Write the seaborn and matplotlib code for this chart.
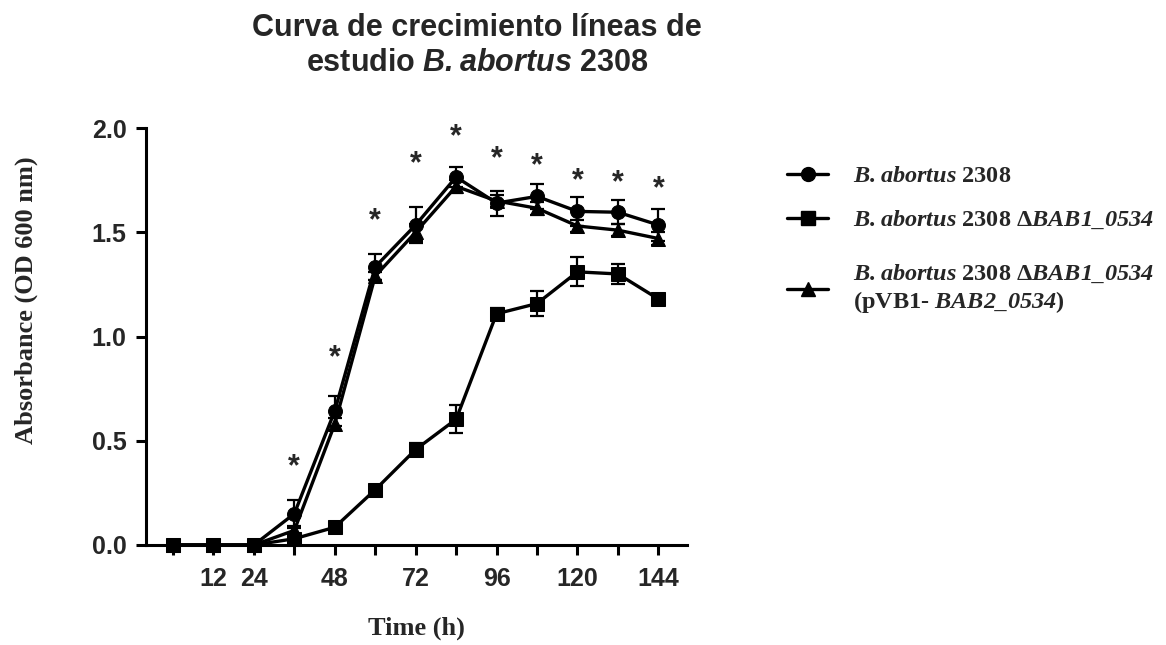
import numpy as np
import pandas as pd
import matplotlib
matplotlib.use('Agg')
import matplotlib.pyplot as plt
import matplotlib.transforms as mtransforms
from matplotlib.lines import Line2D
import seaborn as sns

# Datos
tiempo = [0, 12, 24, 36, 48, 60, 72, 84, 96, 108, 120, 132, 144]

wt = [0, 0, 0, 0.15, 0.643, 1.334, 1.535, 1.765, 1.64, 1.672, 1.60, 1.596, 1.535]
wt_err = [0, 0, 0, 0.068, 0.07, 0.064, 0.085, 0.048, 0.06, 0.06, 0.07, 0.057, 0.077]

mutante = [0, 0, 0, 0.03, 0.085, 0.265, 0.458, 0.603, 1.109, 1.158, 1.31, 1.30, 1.18]
mutante_err = [0, 0, 0, 0.01, 0.015, 0.02, 0.03, 0.068, 0.03, 0.06, 0.07, 0.05, 0.02]

complementada = [0, 0, 0, 0.07, 0.58, 1.29, 1.50, 1.72, 1.65, 1.615, 1.53, 1.51, 1.47]
complementada_err = [0, 0, 0, 0.02, 0.03, 0.02, 0.04, 0.03, 0.03, 0.03, 0.03, 0.03, 0.03]

# Altura (centro) de los asteriscos de significancia
asteriscos_t = [36, 48, 60, 72, 84, 96, 108, 120, 132, 144]
asteriscos_y = [0.418, 0.94, 1.60, 1.873, 2.00, 1.897, 1.86, 1.79, 1.78, 1.75]

ticks_x = [0, 12, 24, 36, 48, 60, 72, 84, 96, 108, 120, 132, 144]
etiquetas_x = ['', '12', '24', '', '48', '', '72', '', '96', '', '120', '', '144']
ticks_y = [0.0, 0.5, 1.0, 1.5, 2.0]

cepas = ['wt', 'mut', 'comp']
etiquetas_cepas = [
    r'$\mathbfit{B.abortus}$ 2308',
    r'$\mathbfit{B.abortus}$ 2308 Δ$\mathbfit{BAB1\_0534}$',
    r'$\mathbfit{B.abortus}$ 2308 Δ$\mathbfit{BAB1\_0534}$' + '\n' + r'(pVB1- $\mathbfit{BAB2\_0534}$)',
]
marcadores = {'wt': 'o', 'mut': 's', 'comp': '^'}

# Tabla larga para seaborn
df = pd.DataFrame({
    'tiempo': tiempo * 3,
    'absorbancia': wt + mutante + complementada,
    'error': wt_err + mutante_err + complementada_err,
    'cepa': ['wt'] * len(tiempo) + ['mut'] * len(tiempo) + ['comp'] * len(tiempo),
})

sns.set_theme(style='ticks')
plt.rcParams['font.family'] = ['Liberation Sans', 'DejaVu Sans']
plt.rcParams['mathtext.fontset'] = 'custom'
plt.rcParams['mathtext.bfit'] = 'Liberation Serif:italic:bold'
plt.rcParams['mathtext.sf'] = 'Liberation Sans:italic:bold'

fig = plt.figure(figsize=(11.66, 6.45), dpi=100)
ax = fig.add_axes([146 / 1166, 100 / 645, 541 / 1166, 417 / 645])

# Barras de error (debajo de las líneas)
for cepa in cepas:
    sub = df[(df['cepa'] == cepa) & (df['error'] > 0)]
    ax.errorbar(sub['tiempo'], sub['absorbancia'], yerr=sub['error'], fmt='none',
                ecolor='black', elinewidth=1.6, capsize=5, capthick=1.6, zorder=2, clip_on=False)

sns.lineplot(data=df, x='tiempo', y='absorbancia', hue='cepa', style='cepa',
             hue_order=cepas, style_order=cepas, markers=marcadores, dashes=False,
             palette={c: 'black' for c in cepas}, linewidth=2.4, markersize=10,
             markeredgecolor='black', errorbar=None, legend=False, ax=ax, zorder=3)
for linea in ax.lines:
    linea.set_clip_on(False)

# Asteriscos
trans_ast = mtransforms.offset_copy(ax.transData, fig=fig, x=0, y=-12.5, units='points')
for t, y in zip(asteriscos_t, asteriscos_y):
    ax.text(t, y, '*', transform=trans_ast, ha='center', va='baseline',
            fontsize=22, fontweight='bold', clip_on=False)

# Ejes
ax.set_xlim(-8, 152.5)
ax.set_ylim(0, 2.0)
ax.set_xticks(ticks_x)
ax.set_xticklabels(etiquetas_x)
ax.set_yticks(ticks_y)
ax.set_yticklabels([f'{v:.1f}' for v in ticks_y])
for etiqueta in ax.get_xticklabels() + ax.get_yticklabels():
    etiqueta.set_fontweight('bold')
ax.tick_params(axis='both', length=7, width=2.2, labelsize=18, pad=7, color='black')
ax.tick_params(axis='x', pad=9)
for lado in ['left', 'bottom']:
    ax.spines[lado].set_linewidth(2.2)
    ax.spines[lado].set_color('black')
sns.despine(ax=ax)
ax.grid(False)

ax.set_xlabel('Time (h)', fontsize=19, fontweight='bold', family='Liberation Serif', labelpad=18)
ax.set_ylabel('')
fig.text(26 / 1166, 1 - 300 / 645, 'Absorbance (OD 600 nm)', rotation=90, ha='center', va='center',
         fontsize=19, fontweight='bold', family='Liberation Serif')

# Título
fig.text(477 / 1166, 1 - 13 / 645, 'Curva de crecimiento líneas de\nestudio $\\mathsf{B.abortus}$ 2308',
         ha='center', va='top', multialignment='center', fontsize=22, fontweight='bold')

# Leyenda (dos bloques para respetar la separación del original)
manijas = [Line2D([], [], color='black', marker=marcadores[c], lw=2.4, ms=10) for c in cepas]
estilo_leyenda = dict(loc='upper left', bbox_transform=fig.transFigure, frameon=False,
                      borderpad=0, borderaxespad=0, handlelength=1.7, handletextpad=1.0,
                      prop={'family': 'Liberation Serif', 'weight': 'bold', 'size': 17.5})
leyenda_1 = ax.legend(manijas[:2], etiquetas_cepas[:2], bbox_to_anchor=(787 / 1166, 1 - 165 / 645),
                      labelspacing=0.9, **estilo_leyenda)
ax.add_artist(leyenda_1)
ax.legend(manijas[2:], etiquetas_cepas[2:], bbox_to_anchor=(787 / 1166, 1 - 263 / 645),
          **estilo_leyenda)

fig.savefig('out.png', dpi=100)
